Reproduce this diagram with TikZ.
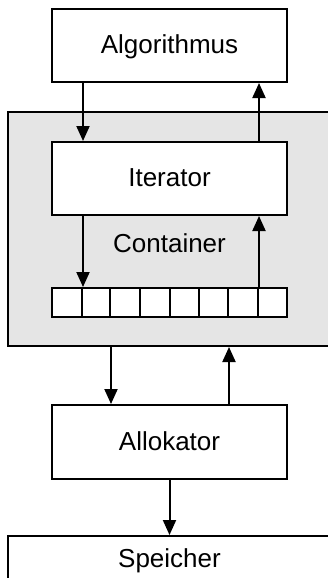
\documentclass[tikz,border=0pt]{standalone}
\usepackage{fontspec}
\setmainfont{Liberation Sans}
\usepackage{tikz}
\usetikzlibrary{arrows.meta, positioning}

\begin{document}
\begin{tikzpicture}[x=1pt, y=-1pt,
    box/.style={draw, line width=2pt, fill=white, minimum width=235pt,
        minimum height=73pt, inner sep=0pt, text height=16pt, text depth=0pt,
        font=\fontsize{26}{30}\selectfont},
    cell/.style={draw, line width=2pt, fill=white, minimum height=29pt, inner sep=0pt},
    link/.style={line width=2pt, -{Triangle[length=15pt, width=13pt]}}]
    \useasboundingbox (0,0) rectangle (328,578);
    % Container with its element cells
    \node[draw, line width=2pt, fill=gray!20, minimum width=323pt,
        minimum height=234pt] (cont) at (169.5,229) {};
    \node[inner sep=0pt, text height=16pt, text depth=0pt,
        font=\fontsize{26}{30}\selectfont] (contlabel) at (169.5,244.7) {Container};
    \node[box] (alg) at (169.5,45.5) {Algorithmus};
    \node[box] (iter) at (169.5,178.5) {Iterator};
    \foreach \a/\b [count=\i] in {52/82, 82/110, 110/140, 140/170,
                                  170/199, 199/228, 228/258, 258/287} {
        \node[cell, minimum width={(\b-\a)*1pt}] (c\i) at ({(\a+\b)/2},302.5) {};
    }
    \node[box, minimum height=74pt] (alloc) at (169.5,442) {Allokator};
    \node[box, minimum width=323pt, minimum height=46pt] (mem) at (169.5,559) {Speicher};
    % Algorithmus <-> Iterator <-> cells
    \draw[link] (alg.south -| c1.north east) -- (iter.north -| c1.north east);
    \draw[link] (iter.north -| c7.north east) -- (alg.south -| c7.north east);
    \draw[link] (iter.south -| c1.north east) -- (c1.north east);
    \draw[link] (c7.north east) -- (iter.south -| c7.north east);
    % Container <-> Allokator -> Speicher
    \draw[link] (cont.south -| c2.north east) -- (alloc.north -| c2.north east);
    \draw[link] (alloc.north -| c6.north east) -- (cont.south -| c6.north east);
    \draw[link] (alloc.south) -- (mem.north);
\end{tikzpicture}
\end{document}
